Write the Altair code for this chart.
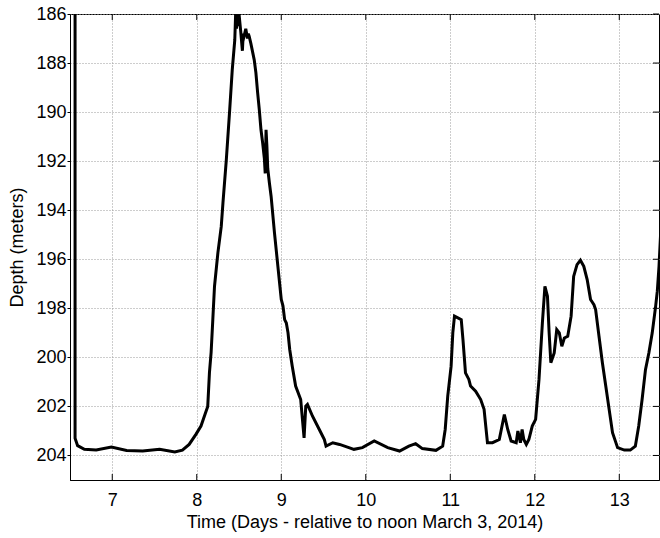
import altair as alt
import pandas as pd

# Depth trace (days relative to noon March 3, 2014 ; depth in meters)
days = [6.56, 6.56, 6.59, 6.67, 6.81, 6.99, 7.17, 7.36, 7.56, 7.74, 7.83, 7.91, 7.99, 8.05, 8.10,
        8.13, 8.15, 8.17, 8.19, 8.21, 8.25, 8.29, 8.31, 8.35, 8.39, 8.42, 8.45, 8.46, 8.47, 8.48,
        8.49, 8.50, 8.52, 8.54, 8.55, 8.56, 8.58, 8.60, 8.61, 8.62, 8.64, 8.68, 8.70, 8.72, 8.74,
        8.76, 8.78, 8.80, 8.81, 8.82, 8.83, 8.84, 8.86, 8.88, 8.92, 8.96, 9.00, 9.02, 9.04, 9.06,
        9.08, 9.10, 9.13, 9.17, 9.23, 9.27, 9.29, 9.31, 9.37, 9.45, 9.51, 9.53, 9.61, 9.69, 9.80,
        9.86, 9.96, 10.10, 10.26, 10.40, 10.51, 10.59, 10.67, 10.83, 10.91, 10.94, 10.97, 11.01,
        11.03, 11.05, 11.09, 11.13, 11.15, 11.18, 11.22, 11.24, 11.30, 11.36, 11.40, 11.42, 11.44,
        11.50, 11.58, 11.64, 11.68, 11.72, 11.78, 11.80, 11.83, 11.85, 11.87, 11.90, 11.93, 11.97,
        12.01, 12.05, 12.09, 12.12, 12.15, 12.17, 12.19, 12.23, 12.26, 12.29, 12.32, 12.35, 12.39,
        12.43, 12.46, 12.50, 12.54, 12.58, 12.62, 12.66, 12.70, 12.72, 12.76, 12.80, 12.84, 12.88,
        12.92, 12.98, 13.06, 13.13, 13.19, 13.23, 13.27, 13.31, 13.35, 13.39, 13.43, 13.45, 13.47,
        13.49]
depth = [185.0, 203.3, 203.6, 203.75, 203.78, 203.66, 203.8, 203.82, 203.75, 203.86, 203.78, 203.55,
         203.14, 202.8, 202.3, 202.0, 200.63, 199.8, 198.46, 197.1, 195.74, 194.66, 193.7, 191.94,
         189.9, 188.28, 187.06, 186.0, 186.6, 185.9, 186.5, 186.0, 186.7, 187.5, 186.8, 186.9,
         186.6, 187.0, 186.8, 186.9, 187.2, 187.87, 188.4, 189.2, 189.9, 190.72, 191.26, 191.9,
         192.5, 190.72, 191.4, 192.3, 192.9, 193.44, 194.93, 196.29, 197.64, 197.9, 198.46, 198.6,
         199.0, 199.68, 200.36, 201.17, 201.72, 203.28, 201.99, 201.92, 202.4, 202.94, 203.35,
         203.62, 203.48, 203.55, 203.68, 203.75, 203.68, 203.41, 203.68, 203.82, 203.62, 203.52,
         203.72, 203.79, 203.62, 202.94, 201.58, 200.36, 199.0, 198.32, 198.39, 198.46, 199.27,
         200.63, 200.9, 201.17, 201.38, 201.72, 202.12, 202.8, 203.48, 203.48, 203.35, 202.33,
         202.94, 203.41, 203.48, 203.0, 203.48, 202.94, 203.35, 203.55, 203.35, 202.8, 202.53,
         200.9, 198.6, 197.1, 197.51, 199.0, 200.22, 199.82, 198.87, 199.0, 199.55, 199.21, 199.14,
         198.32, 196.7, 196.22, 196.04, 196.29, 196.83, 197.64, 197.85, 198.05, 199.14, 200.22,
         201.17, 202.12, 203.07, 203.68, 203.78, 203.78, 203.62, 202.8, 201.72, 200.5, 199.82,
         199.0, 197.92, 197.3, 196.3, 194.9]

x_ticks = [7, 8, 9, 10, 11, 12, 13]
y_ticks = [186, 188, 190, 192, 194, 196, 198, 200, 202, 204]

df = pd.DataFrame({"day": days, "depth": depth, "i": list(range(len(days)))})
xt = pd.DataFrame({"day": x_ticks})
yt = pd.DataFrame({"depth": y_ticks})

FONT = "Liberation Sans"
W, H = 589, 466

xscale = alt.Scale(domain=[6.5, 13.47], nice=False, zero=False)
yscale = alt.Scale(domain=[186, 205], reverse=True, nice=False, zero=False)

line = alt.Chart(df).mark_line(color="black", strokeWidth=3, clip=True).encode(
    x=alt.X("day:Q", scale=xscale,
            axis=alt.Axis(values=x_ticks, title="Time (Days - relative to noon March 3, 2014)",
                          format="d", tickSize=0, labelPadding=11, titlePadding=4,
                          grid=True)),
    y=alt.Y("depth:Q", scale=yscale,
            axis=alt.Axis(values=y_ticks, title="Depth (meters)", format="d",
                          tickSize=3, labelPadding=1, titlePadding=9, grid=True)),
    order="i:Q",
)

bottom_ticks = alt.Chart(xt).mark_rule(color="black", strokeWidth=1).encode(
    x=alt.X("day:Q", scale=xscale), y=alt.value(H), y2=alt.value(H - 6))
top_ticks = alt.Chart(xt).mark_rule(color="black", strokeWidth=1).encode(
    x=alt.X("day:Q", scale=xscale), y=alt.value(0), y2=alt.value(6))
right_ticks = alt.Chart(yt).mark_rule(color="black", strokeWidth=1).encode(
    y=alt.Y("depth:Q", scale=yscale), x=alt.value(W), x2=alt.value(W - 6))

chart = alt.layer(line, bottom_ticks, top_ticks, right_ticks).properties(
    width=W, height=H,
    autosize=alt.AutoSizeParams(type="none"),
    padding={"left": 70, "top": 14, "right": 1, "bottom": 58},
    background="white",
).configure_view(
    stroke="black", strokeWidth=1
).configure_axis(
    labelFont=FONT, labelFontSize=18, labelColor="black",
    titleFont=FONT, titleFontSize=18, titleFontWeight="normal", titleColor="black",
    domainColor="black", domainWidth=1, tickColor="black",
    gridColor="#9a9a9a", gridDash=[1, 2], gridWidth=1,
)

chart.save("out.html", embed_options={"renderer": "svg", "actions": False})
